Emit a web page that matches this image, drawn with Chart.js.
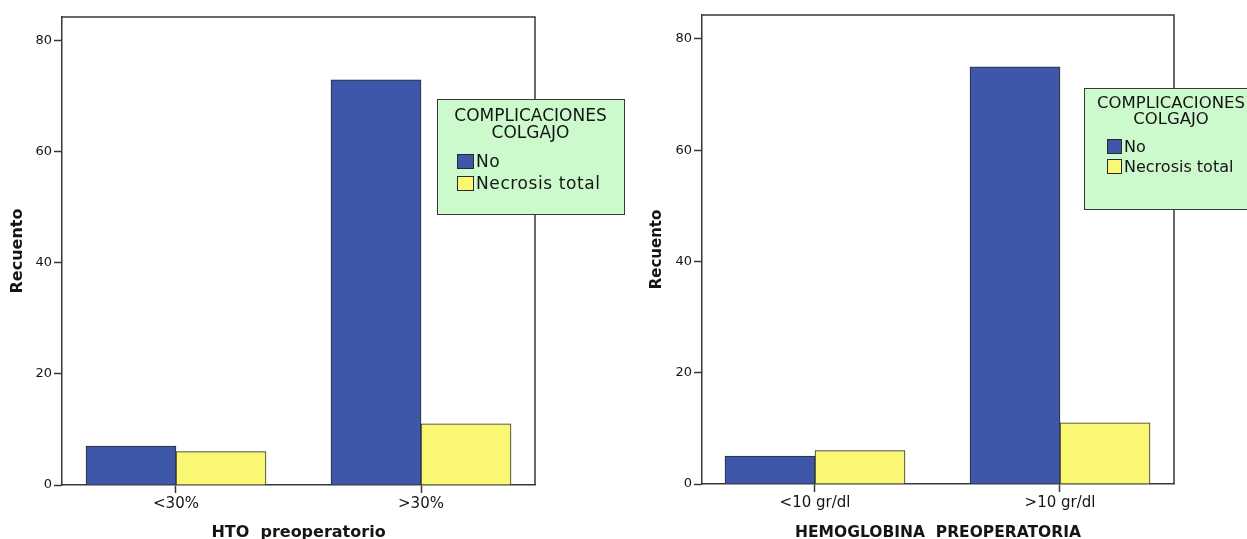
<!DOCTYPE html>
<html>
<head>
<meta charset="utf-8">
<script src="https://cdn.jsdelivr.net/npm/chart.js@4"></script>
<style>
  html, body { margin: 0; padding: 0; background: #fff; overflow: hidden; width: 1247px; height: 539px; }
  #hto { position: absolute; left: 0; top: 0; }
  #hb { position: absolute; left: 640px; top: 0; }
</style>
</head>
<body>
<canvas id="hto" width="640" height="550"></canvas>
<canvas id="hb" width="607" height="550"></canvas>
<script>
// Series and categories
const seriesNames = ['No', 'Necrosis total'];
const legendTitle = ['COMPLICACIONES', 'COLGAJO'];

const htoCategories = ['<30%', '>30%'];
const htoNo = [7, 73];
const htoNecrosis = [6, 11];

const hbCategories = ['<10 gr/dl', '>10 gr/dl'];
const hbNo = [5, 75];
const hbNecrosis = [6, 11];

const yTicks = [0, 20, 40, 60, 80];

const BLUE = '#3e57a8';
const YELLOW = '#faf774';
const EDGE = '#2a2a2a';
const AXIS = '#383838';
const AXIS_WIDTH = 1.5;
const TEXT = '#151515';
const LEGEND_FILL = '#ccfacc';

Chart.defaults.font.family = '"DejaVu Sans", sans-serif';
Chart.defaults.color = TEXT;

// top and right sides of the plot box
const framePlugin = {
  id: 'plotFrame',
  afterDatasetsDraw(chart) {
    const { ctx, chartArea: a } = chart;
    const l = Math.round(a.left), t = Math.round(a.top);
    const r = Math.round(a.right), b = Math.round(a.bottom);
    ctx.save();
    ctx.strokeStyle = AXIS;
    ctx.lineWidth = AXIS_WIDTH;
    ctx.beginPath();
    ctx.moveTo(l, t);
    ctx.lineTo(r, t);
    ctx.lineTo(r, b);
    ctx.stroke();
    ctx.restore();
  }
};

// boxed legend with a two-line title, drawn from the datasets
const legendPlugin = {
  id: 'boxLegend',
  afterDraw(chart, args, o) {
    const ctx = chart.ctx;
    ctx.save();
    ctx.fillStyle = LEGEND_FILL;
    ctx.fillRect(o.x, o.y, o.w, o.h);
    ctx.strokeStyle = AXIS;
    ctx.lineWidth = 1;
    ctx.strokeRect(o.x + 0.5, o.y + 0.5, o.w, o.h);

    ctx.fillStyle = TEXT;
    ctx.textAlign = 'center';
    ctx.textBaseline = 'middle';
    ctx.font = o.titleSize + 'px "DejaVu Sans"';
    legendTitle.forEach((line, i) => ctx.fillText(line, o.x + o.w / 2, o.titleY + i * o.titleGap));

    ctx.textAlign = 'left';
    ctx.font = o.itemSize + 'px "DejaVu Sans"';
    if ('letterSpacing' in ctx) ctx.letterSpacing = o.itemSpacing + 'px';
    chart.data.datasets.forEach((ds, i) => {
      const sy = o.itemY + i * o.itemGap;
      ctx.fillStyle = ds.backgroundColor;
      ctx.fillRect(o.swX, sy, o.swW, o.swH);
      ctx.strokeStyle = EDGE;
      ctx.strokeRect(o.swX + 0.5, sy + 0.5, o.swW - 1, o.swH - 1);
      ctx.fillStyle = TEXT;
      ctx.fillText(ds.label, o.textX, sy + o.swH / 2 + o.textDy);
    });
    ctx.restore();
  }
};

function makeChart(id, cfg) {
  const cats = cfg.categories;
  const toPoints = arr => arr.map((v, i) => ({ x: i, y: v }));
  return new Chart(document.getElementById(id), {
    type: 'bar',
    data: {
      datasets: [
        { label: seriesNames[0], data: toPoints(cfg.no), backgroundColor: BLUE,
          borderColor: EDGE, borderWidth: 1, barThickness: 90 },
        { label: seriesNames[1], data: toPoints(cfg.necrosis), backgroundColor: YELLOW,
          borderColor: EDGE, borderWidth: 1, barThickness: 90 }
      ]
    },
    options: {
      responsive: false,
      animation: false,
      events: [],
      layout: { padding: { top: cfg.padTop, right: cfg.padRight, left: 0, bottom: 0 } },
      plugins: {
        legend: { display: false },
        tooltip: { enabled: false },
        boxLegend: cfg.legend
      },
      scales: {
        x: {
          type: 'linear',
          min: cfg.xMin,
          max: cfg.xMax,
          offset: false,
          afterBuildTicks: s => { s.ticks = s.ticks.filter(t => Number.isInteger(t.value) && t.value >= 0 && t.value < cats.length); },
          afterFit: s => { s.height = cfg.xAxisHeight; },
          ticks: { stepSize: 1, autoSkip: false, maxRotation: 0, padding: 2,
                   callback: v => cats[v], font: { size: 15 }, color: TEXT },
          grid: { display: true, offset: false, drawOnChartArea: false, drawTicks: true,
                  tickLength: 8, tickColor: AXIS, tickWidth: AXIS_WIDTH },
          border: { display: true, color: AXIS, width: AXIS_WIDTH },
          title: { display: true, text: cfg.xTitle, color: TEXT,
                   font: { size: cfg.xTitleSize, weight: 'bold' },
                   padding: { top: 0, bottom: cfg.xTitlePad } }
        },
        y: {
          min: 0,
          max: 84.3,
          afterBuildTicks: s => { s.ticks = s.ticks.filter(t => yTicks.includes(t.value)); },
          afterFit: s => { s.width = 62; },
          ticks: { stepSize: 20, padding: 2, font: { size: 13 }, color: TEXT },
          grid: { display: true, drawOnChartArea: false, drawTicks: true,
                  tickLength: 8, tickColor: AXIS, tickWidth: AXIS_WIDTH },
          border: { display: true, color: AXIS, width: AXIS_WIDTH },
          title: { display: true, text: 'Recuento', color: TEXT,
                   font: { size: cfg.yTitleSize, weight: 'bold' },
                   padding: { top: cfg.yTitlePad, bottom: 0 } }
        }
      }
    },
    plugins: [framePlugin, legendPlugin]
  });
}

makeChart('hto', {
  categories: htoCategories, no: htoNo, necrosis: htoNecrosis,
  xTitle: 'HTO  preoperatorio', xTitleSize: 16, xTitlePad: 7.4,
  yTitleSize: 16, yTitlePad: 8.4,
  padTop: 17, padRight: 105, xAxisHeight: 65,
  xMin: -0.4653, xMax: 1.4653,
  legend: { x: 437, y: 99, w: 187, h: 115, titleSize: 17, titleY: 117, titleGap: 16.5,
            itemSize: 17, itemSpacing: 0.6, itemY: 154, itemGap: 22,
            swX: 457, swW: 17, swH: 15, textX: 476, textDy: 1 }
});

makeChart('hb', {
  categories: hbCategories, no: hbNo, necrosis: hbNecrosis,
  xTitle: 'HEMOGLOBINA  PREOPERATORIA', xTitleSize: 15.5, xTitlePad: 7.7,
  yTitleSize: 15, yTitlePad: 8,
  padTop: 15, padRight: 73, xAxisHeight: 66,
  xMin: -0.4612, xMax: 1.4653,
  legend: { x: 444, y: 88, w: 174, h: 121, titleSize: 16.5, titleY: 104, titleGap: 15.5,
            itemSize: 16, itemSpacing: 0, itemY: 139, itemGap: 20,
            swX: 467, swW: 15, swH: 15, textX: 484, textDy: 1 }
});
</script>
</body>
</html>
